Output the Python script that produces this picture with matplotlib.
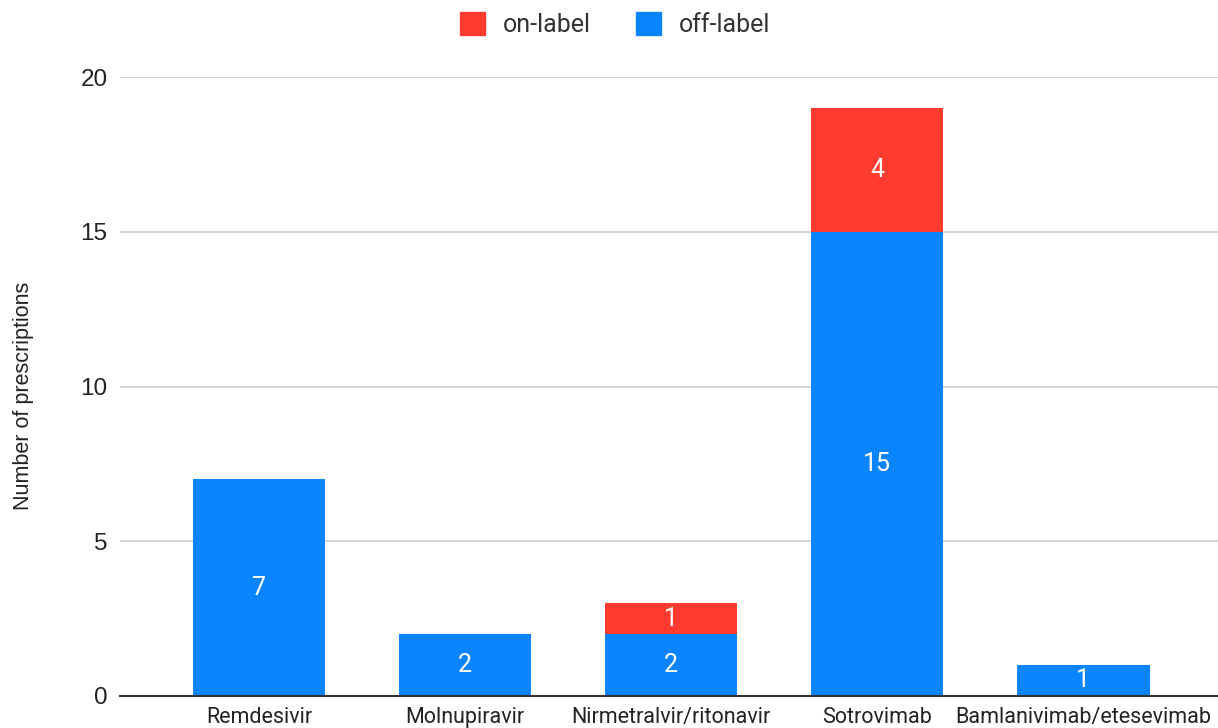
import matplotlib.pyplot as plt
from matplotlib.patches import Patch

drugs = ['Remdesivir', 'Molnupiravir', 'Nirmetralvir/ritonavir', 'Sotrovimab', 'Bamlanivimab/etesevimab']
off_label = [7, 2, 2, 15, 1]
on_label = [0, 0, 1, 4, 0]

red = '#FF3B30'
blue = '#0A84FF'

fig = plt.figure(figsize=(12.18, 7.28), dpi=100)
ax = fig.add_axes([0.0985, 0.044, 0.9015, 0.850])

x = list(range(len(drugs)))
w = 0.645
ax.bar(x, off_label, width=w, color=blue, zorder=3)
ax.bar(x, on_label, width=w, bottom=off_label, color=red, zorder=3)

# value labels inside the segments
for i in x:
    if off_label[i] > 0:
        ax.text(i, off_label[i] / 2, str(off_label[i]), ha='center', va='center',
                color='white', fontsize=18, family='Roboto', zorder=4)
    if on_label[i] > 0:
        ax.text(i, off_label[i] + on_label[i] / 2, str(on_label[i]), ha='center', va='center',
                color='white', fontsize=18, family='Roboto', zorder=4)

ax.set_xlim(-0.675, 4.655)
ax.set_ylim(0, 20)
ax.set_yticks([0, 5, 10, 15, 20])
ax.yaxis.grid(True, color='#cccccc', linewidth=1.2, zorder=0)
ax.tick_params(axis='y', length=0, pad=9, labelsize=17.5, labelcolor='#222222')
ax.tick_params(axis='x', length=0, pad=8, labelsize=15.5, labelcolor='#222222')
for lab in ax.get_yticklabels():
    lab.set_family('Liberation Sans')
ax.set_xticks(x)
ax.set_xticklabels(drugs, family='Roboto')
for s in ['top', 'right', 'left']:
    ax.spines[s].set_visible(False)
ax.spines['bottom'].set_color('#333333')
ax.spines['bottom'].set_linewidth(1.5)
ax.spines['bottom'].set_zorder(5)

fig.text(0.019, 0.456, 'Number of prescriptions', rotation=90, ha='center', va='center',
         fontsize=15.5, family='Liberation Sans', color='#222222')

handles = [Patch(color=red, label='on-label'), Patch(color=blue, label='off-label')]
leg = fig.legend(handles=handles, loc='center', bbox_to_anchor=(0.505, 0.966), ncol=2,
                 frameon=False, prop={'family': 'Roboto', 'size': 18},
                 handlelength=1.0, handleheight=1.0, columnspacing=1.8, handletextpad=0.7)
for t in leg.get_texts():
    t.set_color('#333333')

fig.savefig('out.png', dpi=100)
